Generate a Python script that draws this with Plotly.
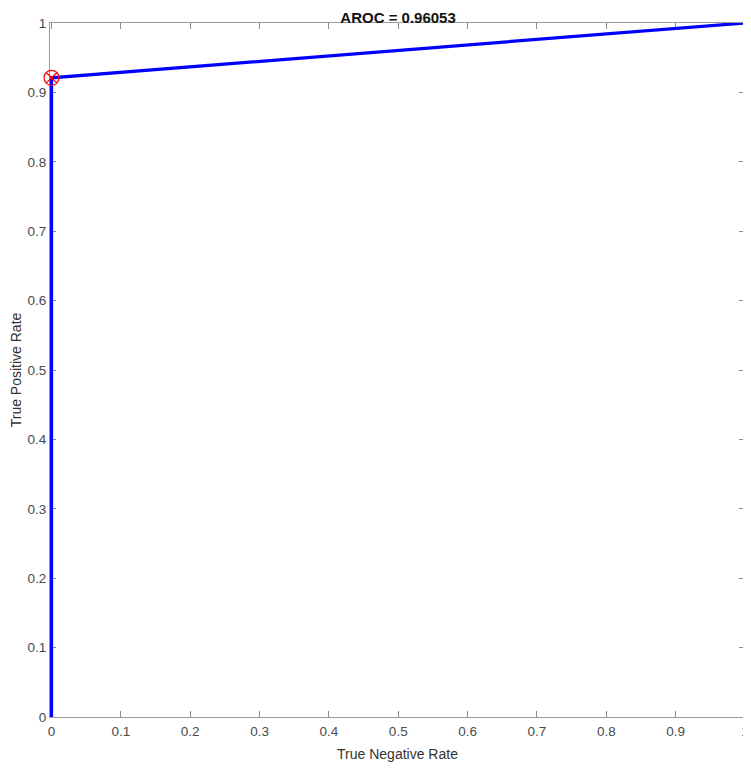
import plotly.graph_objects as go

# ROC curve points (true negative rate, true positive rate)
tnr = [0, 0, 1]
tpr = [0, 0.92106, 1]
# optimal operating point
opt_x = [0]
opt_y = [0.92106]
aroc = 0.96053

ticks = [0, 0.1, 0.2, 0.3, 0.4, 0.5, 0.6, 0.7, 0.8, 0.9, 1]
tick_text = ["0", "0.1", "0.2", "0.3", "0.4", "0.5", "0.6", "0.7", "0.8", "0.9", "1"]

fig = go.Figure()
fig.add_trace(go.Scatter(x=tnr, y=tpr, mode="lines",
                         line=dict(color="#0000ff", width=3.2), showlegend=False))
fig.add_trace(go.Scatter(x=opt_x, y=opt_y, mode="markers", cliponaxis=False,
                         marker=dict(symbol="circle-x-open", size=15, color="#ff0000",
                                     line=dict(width=1.2, color="#ff0000")),
                         showlegend=False))

font = "Liberation Sans, Arial"
# automargin on so the title standoff is honoured; margins are kept fixed below
axis_common = dict(tickvals=ticks, ticktext=tick_text, automargin=True,
                   ticks="inside", ticklen=6, tickwidth=1, tickcolor="#8c8c8c",
                   showline=True, linecolor="#9a9a9a", linewidth=1.2, mirror="ticks",
                   showgrid=False, zeroline=False, layer="below traces",
                   tickfont=dict(family=font, size=13.5, color="#4a4a4a"))

# tiny negative start so the vertical part of the curve is not clipped
fig.update_xaxes(range=[-0.0022, 1], ticklabelstandoff=2,
                 title=dict(text="True Negative Rate", standoff=12,
                            font=dict(family=font, size=14, color="#333333")),
                 **axis_common)
fig.update_yaxes(range=[0, 1],
                 title=dict(text="True Positive Rate", standoff=9,
                            font=dict(family=font, size=14, color="#333333")),
                 **axis_common)

# page body adds an 8px offset, so the figure is sized to the remaining window
fig.update_layout(
    width=743, height=754,
    margin=dict(l=42, r=6, t=15, b=45, autoexpand=False),
    plot_bgcolor="white", paper_bgcolor="white",
    title=dict(text="<b>AROC = %.5f</b>" % aroc, x=0.525, xanchor="center",
               y=0.987, yanchor="middle",
               font=dict(family=font, size=15, color="#111111")),
)

fig.write_html("out.html")
